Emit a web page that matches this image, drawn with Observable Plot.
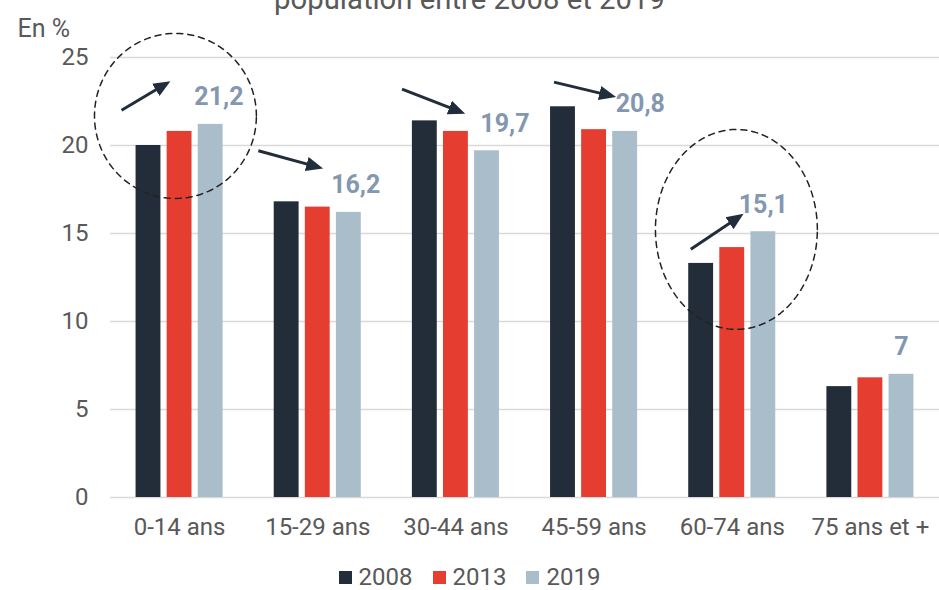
<!DOCTYPE html>
<html>
<head>
<meta charset="utf-8">
<script src="https://cdn.jsdelivr.net/npm/d3@7"></script>
<script src="https://cdn.jsdelivr.net/npm/@observablehq/plot@0.6"></script>
<style>
  html, body { margin: 0; padding: 0; background: #fff; overflow: hidden; }
  body { width: 939px; height: 590px; position: relative; font-family: Roboto, sans-serif; }
  #title { position: absolute; z-index: 2; left: 0; width: 939px; top: -15px; text-align: center; font-size: 29.3px; line-height: 29.3px; color: #595959; }
  #chart { position: absolute; z-index: 1; left: 0; top: 0; }
  #legend { position: absolute; z-index: 2; left: 0; top: 562px; width: 939px; display: flex; justify-content: center; gap: 20px; font-size: 24px; color: #595959; line-height: 30px; }
  #legend span.item { display: inline-flex; align-items: center; gap: 7px; }
  #legend span.sw { display: inline-block; width: 13px; height: 13px; }
</style>
</head>
<body>
<div id="title">population entre 2008 et 2019</div>
<div id="chart"></div>
<div id="legend"></div>
<script>
// ---- data ----
const categories = ["0-14 ans", "15-29 ans", "30-44 ans", "45-59 ans", "60-74 ans", "75 ans et +"];
const years = ["2008", "2013", "2019"];
const v2008 = [20.0, 16.8, 21.4, 22.2, 13.3, 6.3];
const v2013 = [20.8, 16.5, 20.8, 20.9, 14.2, 6.8];
const v2019 = [21.2, 16.2, 19.7, 20.8, 15.1, 7.0];
const yTicks = [0, 5, 10, 15, 20, 25];
const yearColors = ["#232d3a", "#e53d2f", "#aabdca"];

// annotations (category index, offsets within category, y values)
const arrowCat = [0, 1, 2, 3, 4];
const arrowX1 = [0.08, 0.07, 0.11, 0.21, 0.20];
const arrowY1 = [22.0, 19.7, 23.2, 23.6, 14.1];
const arrowX2 = [0.39, 0.49, 0.52, 0.61, 0.54];
const arrowY2 = [23.45, 18.8, 21.95, 22.85, 15.9];
const labelShift = [0.06, 0.05, 0.13, 0.11, 0.0, 0.0]; // horizontal shift of value labels (category units)

const ellipseCat = [0, 4];
const ellipseCx = [0.47, 0.53];
const ellipseCy = [21.68, 15.23];
const ellipseRx = [0.586, 0.586];
const ellipseRy = [4.69, 5.68];

// ---- build tables ----
const series = [v2008, v2013, v2019];
const inner = d3.scaleBand(years, [0.185, 0.815]).paddingInner(0.2);
const bars = [];
categories.forEach((c, i) => {
  years.forEach((y, j) => {
    bars.push({cat: c, year: y, value: series[j][i],
      x1: i + inner(y), x2: i + inner(y) + inner.bandwidth()});
  });
});
const labels2019 = categories.map((c, i) => ({
  x: i + inner("2019") + inner.bandwidth() / 2 + labelShift[i],
  y: v2019[i],
  text: String(v2019[i]).replace(".", ",")
}));
const arrows = arrowCat.map((c, k) => ({
  x1: c + arrowX1[k], y1: arrowY1[k], x2: c + arrowX2[k], y2: arrowY2[k]
}));
const ellipsePts = [];
ellipseCat.forEach((c, k) => {
  for (let t = 0; t < 120; t++) {
    const a = t / 120 * 2 * Math.PI;
    ellipsePts.push({id: k, x: c + ellipseCx[k] + ellipseRx[k] * Math.cos(a), y: ellipseCy[k] + ellipseRy[k] * Math.sin(a)});
  }
});

const svg = Plot.plot({
  width: 939,
  height: 560,
  marginLeft: 110,
  marginRight: 0,
  marginTop: 57,
  marginBottom: 63,
  x: {domain: [0, categories.length], axis: null},
  y: {domain: [0, 25], axis: null},
  color: {domain: years, range: yearColors},
  style: {fontFamily: "Roboto, sans-serif", background: "transparent", overflow: "visible"},
  marks: [
    Plot.ruleY(yTicks, {stroke: "#d9d9d9", strokeWidth: 1.5}),
    Plot.text(yTicks, {x: 0, y: d => d, text: d => String(d), textAnchor: "end", dx: -22, fill: "#595959", fontSize: 24}),
    Plot.rectY(bars, {x1: "x1", x2: "x2", y1: 0, y2: "value", fill: "year"}),
    Plot.text(categories, {x: (d, i) => i + 0.5, y: 0, text: d => d, dy: 30, fill: "#595959", fontSize: 24}),
    Plot.text(labels2019, {x: "x", y: "y", text: "text", dy: -27, fill: "#8497b0", fontSize: 25, fontWeight: "bold"}),
    Plot.line(ellipsePts, {x: "x", y: "y", z: "id", curve: "linear-closed", stroke: "#222", strokeWidth: 1.5, strokeDasharray: "6,5"}),
    Plot.link(arrows, {x1: "x1", y1: "y1", x2: "x2", y2: "y2", stroke: "#222d3b", strokeWidth: 3, markerEnd: "arrow"}),
    Plot.text(["En %"], {frameAnchor: "top-left", text: d => d, textAnchor: "start", dx: -93, dy: -38, fill: "#595959", fontSize: 25})
  ]
});

svg.querySelectorAll("marker").forEach(m => {
  m.setAttribute("fill", "#222d3b");
  m.setAttribute("stroke", "none");
  const p = m.querySelector("path");
  if (p) p.setAttribute("d", "M-5,-3.6L3.5,0L-5,3.6Z");
});
document.getElementById("chart").appendChild(svg);

const legend = document.getElementById("legend");
years.forEach((y, j) => {
  const item = document.createElement("span");
  item.className = "item";
  const sw = document.createElement("span");
  sw.className = "sw";
  sw.style.background = yearColors[j];
  item.appendChild(sw);
  item.appendChild(document.createTextNode(y));
  legend.appendChild(item);
});
</script>
</body>
</html>
